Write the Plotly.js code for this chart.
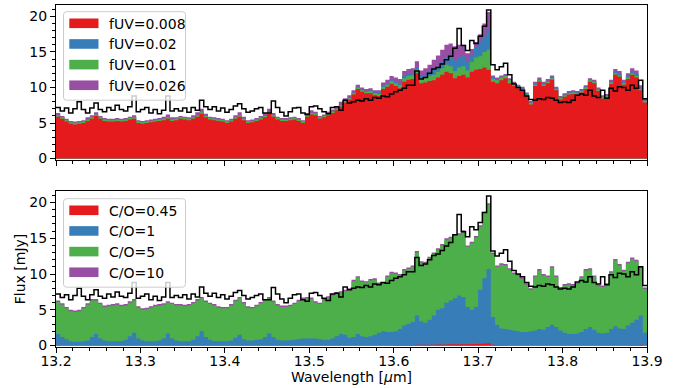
<!DOCTYPE html>
<html>
<head>
<meta charset="utf-8">
<script src="https://cdn.plot.ly/plotly-3.0.1.min.js"></script>
<style>html,body{margin:0;padding:0;background:#fff;}#chart{width:684px;height:388px;}</style>
</head>
<body>
<div id="chart"></div>
<script>
// Wavelength grid: bins of 0.005 um starting at 13.2 um
const wlStart = 13.2;
const wlStep = 0.005;

// Observed spectrum [mJy]
const observed = [
  7.2, 6.7, 7.1, 6.4, 7.0, 8.0, 6.9, 6.4, 7.1, 7.8,
  6.9, 6.6, 7.2, 6.8, 7.5, 6.9, 6.7, 7.3, 8.8, 6.6,
  6.9, 7.2, 6.4, 6.9, 6.3, 6.8, 8.8, 6.7, 7.0, 6.7,
  7.1, 6.5, 7.2, 6.8, 8.2, 7.3, 6.9, 7.3, 6.7, 7.1,
  6.5, 6.9, 7.4, 7.7, 7.0, 6.5, 6.7, 7.0, 7.2, 6.4,
  6.4, 8.1, 7.2, 6.5, 6.0, 6.6, 7.1, 7.2, 6.4, 6.2,
  7.3, 7.4, 7.0, 6.6, 6.3, 7.2, 7.3, 6.8, 8.2, 7.8,
  8.0, 8.2, 8.1, 8.4, 8.2, 8.6, 8.5, 8.8, 8.7, 9.1,
  9.4, 9.6, 9.9, 10.3, 10.3, 12.3, 11.2, 11.4, 12.0, 12.6,
  12.8, 13.3, 13.9, 14.4, 15.5, 18.3, 15.9, 15.2, 16.6, 16.2,
  17.2, 18.6, 20.9, 13.2, 12.5, 12.9, 13.4, 11.8, 10.5, 10.0,
  9.6, 8.8, 8.3, 8.2, 8.4, 8.3, 8.6, 8.5, 8.2, 7.9,
  8.0, 7.9, 8.2, 8.9, 9.1, 8.9, 9.6, 8.8, 8.6, 9.6,
  8.5, 9.9, 9.5, 10.1, 10.0, 9.6, 10.3, 9.9, 11.0, 8.4
];

// Top panel models (fUV)
const fuv0008 = [
  5.9, 5.6, 5.2, 4.9, 4.8, 4.9, 5.0, 5.3, 5.6, 6.0,
  5.6, 5.3, 5.2, 5.2, 5.3, 5.2, 5.3, 5.5, 5.6, 5.0,
  4.9, 5.0, 5.1, 5.2, 5.3, 5.4, 5.6, 5.3, 5.4, 5.6,
  5.5, 5.4, 5.6, 5.9, 6.3, 5.8, 5.5, 5.4, 5.3, 5.2,
  5.0, 5.2, 5.6, 5.9, 5.4, 5.0, 5.1, 5.3, 5.5, 5.8,
  6.3, 5.9, 5.5, 5.3, 5.3, 5.4, 5.5, 5.3, 5.0, 5.9,
  6.2, 6.1, 5.6, 5.8, 6.1, 6.4, 6.8, 7.3, 7.9, 8.3,
  9.0, 9.8, 9.4, 9.2, 9.2, 8.9, 8.8, 9.8, 10.1, 10.5,
  10.2, 9.9, 10.8, 11.1, 11.2, 12.0, 10.6, 10.7, 10.9, 11.0,
  11.4, 11.8, 12.2, 12.0, 11.3, 11.6, 11.8, 11.4, 12.2, 12.5,
  12.6, 12.8, 12.5, 10.8, 10.6, 11.0, 11.3, 10.6, 10.2, 9.9,
  9.6, 8.8, 7.6, 10.2, 10.8, 10.2, 10.6, 11.1, 9.6, 8.3,
  8.7, 9.0, 9.1, 9.0, 9.3, 9.8, 10.8, 10.6, 9.5, 8.4,
  8.6, 10.5, 11.8, 11.5, 10.4, 11.2, 11.8, 11.4, 9.6, 7.9
];
const fuv002 = [
  6.1, 5.8, 5.4, 5.1, 5.0, 5.1, 5.2, 5.5, 5.8, 6.2,
  5.8, 5.5, 5.4, 5.4, 5.5, 5.4, 5.5, 5.7, 5.8, 5.2,
  5.1, 5.2, 5.3, 5.4, 5.5, 5.6, 5.8, 5.5, 5.6, 5.8,
  5.7, 5.6, 5.8, 6.1, 6.5, 6.0, 5.7, 5.6, 5.5, 5.4,
  5.2, 5.4, 5.8, 6.1, 5.6, 5.2, 5.3, 5.5, 5.7, 6.0,
  6.5, 6.1, 5.7, 5.5, 5.5, 5.6, 5.7, 5.5, 5.2, 6.1,
  6.4, 6.3, 5.8, 6.0, 6.3, 6.6, 7.0, 7.5, 8.1, 8.5,
  9.3, 10.1, 9.7, 9.5, 9.6, 9.3, 9.3, 10.3, 10.6, 11.1,
  10.9, 10.6, 11.6, 11.9, 12.0, 12.8, 11.6, 11.8, 12.2, 12.6,
  12.9, 13.5, 14.3, 14.6, 13.8, 14.3, 14.4, 13.7, 14.6, 15.6,
  16.4, 17.2, 18.1, 11.5, 11.1, 11.5, 11.7, 11.1, 10.6, 10.2,
  9.9, 9.1, 7.9, 10.5, 11.1, 10.5, 10.9, 11.5, 9.9, 8.6,
  9.0, 9.3, 9.4, 9.3, 9.6, 10.1, 11.1, 10.9, 9.8, 8.7,
  8.9, 10.8, 12.2, 11.9, 10.8, 11.6, 12.3, 12.0, 10.0, 8.2
];
const fuv001 = [
  6.1, 5.8, 5.4, 5.1, 5.0, 5.1, 5.2, 5.5, 5.8, 6.2,
  5.8, 5.5, 5.4, 5.4, 5.5, 5.4, 5.5, 5.7, 5.8, 5.2,
  5.1, 5.2, 5.3, 5.4, 5.5, 5.6, 5.8, 5.5, 5.6, 5.8,
  5.7, 5.6, 5.8, 6.1, 6.5, 6.0, 5.7, 5.6, 5.5, 5.4,
  5.2, 5.4, 5.8, 6.1, 5.6, 5.2, 5.3, 5.5, 5.7, 6.0,
  6.5, 6.1, 5.7, 5.5, 5.5, 5.6, 5.7, 5.5, 5.2, 6.1,
  6.4, 6.3, 5.8, 6.0, 6.3, 6.6, 7.0, 7.5, 8.1, 8.5,
  9.2, 10.0, 9.6, 9.4, 9.5, 9.2, 9.1, 10.1, 10.4, 10.9,
  10.6, 10.3, 11.3, 11.6, 11.7, 12.5, 11.2, 11.4, 11.6, 11.8,
  12.2, 12.7, 13.2, 13.0, 12.3, 12.8, 13.0, 12.4, 13.6, 14.2,
  14.4, 15.0, 15.3, 11.2, 11.0, 11.4, 11.6, 11.0, 10.5, 10.1,
  9.8, 9.0, 7.8, 10.4, 11.0, 10.4, 10.8, 11.3, 9.8, 8.5,
  8.9, 9.2, 9.3, 9.2, 9.5, 10.0, 11.0, 10.8, 9.7, 8.6,
  8.8, 10.7, 12.0, 11.7, 10.6, 11.4, 12.0, 11.6, 9.8, 8.1
];
const fuv0026 = [
  6.4, 6.0, 5.6, 5.3, 5.2, 5.3, 5.4, 5.8, 6.1, 6.5,
  6.0, 5.7, 5.6, 5.6, 5.7, 5.6, 5.7, 5.9, 6.1, 5.4,
  5.3, 5.4, 5.5, 5.6, 5.7, 5.9, 6.2, 5.8, 5.8, 6.0,
  5.9, 5.8, 6.1, 6.5, 7.0, 6.3, 5.9, 5.8, 5.7, 5.6,
  5.4, 5.6, 6.1, 6.5, 5.9, 5.4, 5.5, 5.7, 6.0, 6.4,
  7.0, 6.4, 5.9, 5.7, 5.7, 5.8, 5.9, 5.7, 5.4, 6.4,
  6.8, 6.6, 6.0, 6.2, 6.6, 6.9, 7.4, 8.0, 8.5, 8.9,
  9.6, 10.4, 10.0, 9.8, 9.9, 9.6, 9.6, 10.7, 11.1, 11.6,
  11.4, 11.2, 12.3, 12.6, 12.7, 13.7, 12.4, 12.7, 13.2, 13.9,
  14.5, 15.3, 16.0, 16.2, 15.8, 16.0, 16.0, 14.8, 15.4, 16.4,
  17.5, 19.0, 20.6, 11.7, 11.4, 11.7, 11.9, 11.3, 10.8, 10.4,
  10.1, 9.3, 8.1, 10.8, 11.4, 10.8, 11.2, 11.7, 10.1, 8.8,
  9.2, 9.5, 9.6, 9.5, 9.8, 10.3, 11.3, 11.1, 10.0, 8.9,
  9.1, 11.1, 12.6, 12.3, 11.1, 12.0, 12.7, 12.4, 10.3, 8.4
];

// Bottom panel models (C/O)
const co045 = [
  0.04, 0.04, 0.04, 0.04, 0.04, 0.04, 0.04, 0.04, 0.04, 0.04,
  0.04, 0.04, 0.04, 0.04, 0.04, 0.04, 0.04, 0.04, 0.05, 0.04,
  0.04, 0.04, 0.04, 0.04, 0.04, 0.04, 0.05, 0.04, 0.04, 0.04,
  0.04, 0.04, 0.04, 0.04, 0.05, 0.04, 0.04, 0.04, 0.04, 0.04,
  0.04, 0.04, 0.04, 0.05, 0.04, 0.04, 0.04, 0.04, 0.04, 0.04,
  0.05, 0.04, 0.04, 0.04, 0.04, 0.04, 0.04, 0.04, 0.04, 0.04,
  0.04, 0.04, 0.04, 0.04, 0.04, 0.05, 0.05, 0.05, 0.05, 0.05,
  0.05, 0.05, 0.05, 0.05, 0.05, 0.05, 0.06, 0.06, 0.06, 0.06,
  0.07, 0.07, 0.08, 0.08, 0.09, 0.10, 0.10, 0.11, 0.12, 0.13,
  0.14, 0.15, 0.16, 0.17, 0.18, 0.19, 0.20, 0.20, 0.21, 0.23,
  0.26, 0.30, 0.33, 0.10, 0.08, 0.07, 0.07, 0.06, 0.06, 0.06,
  0.05, 0.05, 0.05, 0.05, 0.05, 0.05, 0.05, 0.06, 0.05, 0.05,
  0.05, 0.05, 0.05, 0.05, 0.05, 0.05, 0.06, 0.05, 0.05, 0.05,
  0.05, 0.05, 0.06, 0.06, 0.06, 0.06, 0.07, 0.08, 0.10, 0.06
];
const co1 = [
  1.6, 1.2, 0.9, 0.6, 0.55, 0.55, 0.6, 0.7, 1.2, 1.6,
  1.0, 0.7, 0.6, 0.6, 0.6, 0.65, 0.8, 1.3, 1.8, 1.0,
  0.7, 0.6, 0.6, 0.6, 0.7, 1.0, 1.7, 1.0, 0.7, 0.6,
  0.6, 0.6, 0.8, 1.3, 2.0, 1.2, 0.8, 0.65, 0.6, 0.6,
  0.6, 0.7, 1.1, 1.5, 0.9, 0.7, 0.7, 0.8, 0.9, 1.2,
  1.7, 1.2, 0.8, 0.7, 0.7, 0.75, 0.8, 0.9, 1.0, 1.0,
  1.0, 1.0, 0.9, 0.8, 0.8, 1.0, 1.3, 1.6, 1.5, 1.1,
  1.2, 1.6, 1.3, 1.2, 1.3, 1.5, 1.8, 2.0, 1.9, 1.9,
  2.0, 2.3, 2.8, 3.0, 3.3, 4.2, 3.4, 3.2, 3.6, 4.2,
  5.0, 5.2, 6.0, 6.3, 6.6, 7.0, 6.8, 5.4, 5.0, 5.4,
  7.8, 9.4, 10.7, 4.0, 2.9, 2.4, 2.3, 2.2, 2.1, 2.0,
  1.9, 1.9, 2.0, 2.1, 2.3, 2.2, 2.6, 2.9, 2.6, 2.1,
  1.8, 1.6, 1.6, 1.7, 1.9, 2.3, 2.6, 2.2, 1.8, 1.7,
  1.8, 2.3, 2.7, 2.4, 2.3, 2.8, 3.2, 3.6, 4.2, 1.8
];
const co5 = [
  6.1, 5.7, 5.2, 4.8, 4.7, 4.8, 5.2, 5.7, 6.3, 6.3,
  5.8, 5.4, 5.5, 5.6, 5.7, 5.5, 5.6, 6.0, 6.3, 5.3,
  5.0, 5.1, 5.3, 5.5, 5.6, 5.7, 6.0, 5.8, 5.6, 5.6,
  5.5, 5.6, 5.9, 6.3, 6.6, 6.1, 5.8, 5.6, 5.3, 5.2,
  5.2, 5.6, 6.2, 6.6, 5.9, 5.3, 5.2, 5.5, 5.9, 6.3,
  6.6, 6.1, 5.6, 5.4, 5.4, 5.5, 5.8, 6.2, 6.5, 6.6,
  6.5, 6.0, 5.8, 6.3, 6.7, 7.0, 7.3, 7.4, 7.6, 7.8,
  9.0, 9.5, 8.9, 8.8, 9.1, 9.2, 8.6, 8.6, 9.6, 10.1,
  10.0, 9.8, 10.5, 10.7, 11.0, 13.0, 11.6, 11.5, 12.2, 12.8,
  13.4, 14.0, 14.8, 15.0, 15.3, 15.5, 15.9, 13.8, 14.3, 15.1,
  16.6, 18.5, 19.7, 12.8, 11.0, 11.3, 11.2, 10.6, 10.0, 9.8,
  9.3, 8.5, 7.8, 9.6, 10.5, 9.8, 9.6, 10.9, 9.6, 8.0,
  8.4, 8.5, 8.4, 8.6, 9.5, 10.5, 10.6, 9.6, 8.3, 8.2,
  8.5, 10.2, 11.9, 11.2, 10.4, 11.5, 12.1, 11.8, 10.8, 7.9
];
const co10 = [
  6.3, 5.9, 5.4, 5.0, 4.9, 5.0, 5.4, 5.9, 6.5, 6.5,
  6.0, 5.6, 5.7, 5.8, 5.9, 5.7, 5.8, 6.2, 6.5, 5.5,
  5.2, 5.3, 5.5, 5.7, 5.8, 5.9, 6.2, 6.0, 5.8, 5.8,
  5.7, 5.8, 6.1, 6.5, 6.8, 6.3, 6.0, 5.8, 5.5, 5.4,
  5.4, 5.8, 6.4, 6.8, 6.1, 5.5, 5.4, 5.7, 6.1, 6.5,
  6.8, 6.3, 5.8, 5.6, 5.6, 5.7, 6.0, 6.4, 6.7, 6.8,
  6.7, 6.2, 6.0, 6.5, 6.9, 7.2, 7.5, 7.6, 7.8, 8.0,
  9.2, 9.7, 9.1, 9.0, 9.3, 9.4, 8.8, 8.8, 9.8, 10.3,
  10.2, 10.0, 10.7, 10.9, 11.2, 13.2, 11.8, 11.7, 12.4, 13.0,
  13.6, 14.2, 15.0, 15.2, 15.5, 15.7, 16.1, 14.0, 14.5, 15.3,
  16.8, 18.7, 19.9, 13.0, 11.2, 11.5, 11.4, 10.8, 10.2, 10.0,
  9.5, 8.7, 8.0, 9.8, 10.7, 10.0, 9.8, 11.1, 9.8, 8.2,
  8.6, 8.7, 8.6, 8.8, 9.7, 10.7, 10.8, 9.8, 8.5, 8.4,
  8.7, 10.4, 12.1, 11.4, 10.6, 11.7, 12.3, 12.0, 11.0, 8.1
];

const topLabels = ['fUV=0.008', 'fUV=0.02', 'fUV=0.01', 'fUV=0.026'];
const bottomLabels = ['C/O=0.45', 'C/O=1', 'C/O=5', 'C/O=10'];
const colors = ['#e41a1c', '#377eb8', '#4daf4a', '#984ea3'];

const n = observed.length;
const edges = [];
for (let i = 0; i <= n; i++) edges.push(+(wlStart + wlStep * i).toFixed(4));
const stepY = a => a.concat([a[a.length - 1]]);

function fillTrace(vals, name, color, xa, ya) {
  return {
    x: edges, y: stepY(vals), type: 'scatter', mode: 'lines',
    line: {shape: 'hv', width: 0, color: color},
    fill: 'tozeroy', fillcolor: color, name: name,
    showlegend: false, xaxis: xa, yaxis: ya, hoverinfo: 'skip'
  };
}
function obsTrace(xa, ya) {
  return {
    x: edges, y: stepY(observed), type: 'scatter', mode: 'lines',
    line: {shape: 'hv', width: 1.5, color: '#000000'},
    name: 'observed', showlegend: false, xaxis: xa, yaxis: ya, hoverinfo: 'skip'
  };
}

const topSeries = [fuv0008, fuv002, fuv001, fuv0026];
const botSeries = [co045, co1, co5, co10];
const data = [];
// draw order (back to front): purple, blue, green, red for top
[3, 1, 2, 0].forEach(k => data.push(fillTrace(topSeries[k], topLabels[k], colors[k], 'x', 'y')));
data.push(obsTrace('x', 'y'));
// draw order bottom: purple, green, blue, red
[3, 2, 1, 0].forEach(k => data.push(fillTrace(botSeries[k], bottomLabels[k], colors[k], 'x2', 'y2')));
data.push(obsTrace('x2', 'y2'));

// ---- figure geometry (pixels) ----
const W = 684, H = 388;
const M = {l: 56, r: 37, t: 5, b: 41};
const plotW = W - M.l - M.r, plotH = H - M.t - M.b;
const px = x => (x - M.l) / plotW;          // pixel x -> paper
const py = y => (H - M.b - y) / plotH;      // pixel y -> paper

// legend drawn with shapes + annotations (matplotlib-like)
const shapes = [], annotations = [];
const font = {family: 'DejaVu Sans, sans-serif', size: 14, color: '#000'};
function addLegend(boxTop, labels) {
  const L = px(63.5), R = px(185.5), T = py(boxTop), B = py(boxTop + 88.5);
  const rx = 3 / plotW, ry = 3 / plotH;
  shapes.push({
    type: 'path', xref: 'paper', yref: 'paper', layer: 'above',
    path: `M${L + rx},${T} H${R - rx} Q${R},${T} ${R},${T - ry} V${B + ry} Q${R},${B} ${R - rx},${B} H${L + rx} Q${L},${B} ${L},${B + ry} V${T - ry} Q${L},${T} ${L + rx},${T} Z`,
    fillcolor: 'rgba(255,255,255,0.8)', line: {color: '#cccccc', width: 1}
  });
  labels.forEach((lab, k) => {
    const cy = boxTop + 11.6 + 20.65 * k;
    shapes.push({
      type: 'rect', xref: 'paper', yref: 'paper', layer: 'above',
      x0: px(69.3), x1: px(98.5), y0: py(cy - 4.8), y1: py(cy + 4.8),
      fillcolor: colors[k], line: {width: 0}
    });
    annotations.push({
      xref: 'paper', yref: 'paper', x: px(108), y: py(cy + 0.5),
      xanchor: 'left', yanchor: 'middle', text: lab, showarrow: false,
      font: font, borderpad: 0
    });
  });
}
addLegend(11.7, topLabels);
addLegend(198.7, bottomLabels);

const axisCommon = {
  showline: true, mirror: true, linecolor: '#000', linewidth: 1,
  ticks: 'outside', ticklen: 5, tickwidth: 1, tickcolor: '#000',
  showgrid: false, zeroline: false, tickfont: font
};
const xCommon = Object.assign({}, axisCommon, {
  range: [13.2, 13.9], dtick: 0.1, tick0: 13.2, ticklabelstandoff: -4,
  minor: {dtick: 0.02, tick0: 13.2, ticks: 'outside', ticklen: 3, tickwidth: 1, tickcolor: '#000', showgrid: false}
});
const yCommon = Object.assign({}, axisCommon, {
  range: [-0.2, 21.6], dtick: 5, tick0: 0,
  minor: {dtick: 1, tick0: 0, ticks: 'outside', ticklen: 3, tickwidth: 1, tickcolor: '#000', showgrid: false}
});

const layout = {
  width: W, height: H,
  margin: M,
  paper_bgcolor: '#fff', plot_bgcolor: '#fff',
  font: font,
  showlegend: false,
  xaxis: Object.assign({}, xCommon, {anchor: 'y', showticklabels: false}),
  yaxis: Object.assign({}, yCommon, {domain: [py(160), 1], anchor: 'x'}),
  xaxis2: Object.assign({}, xCommon, {anchor: 'y2', title: {text: 'Wavelength [<i>μ</i>m]', font: font, standoff: 4}}),
  yaxis2: Object.assign({}, yCommon, {domain: [0, py(191)], anchor: 'x2', title: {text: 'Flux [mJy]', font: font, standoff: 0}}),
  shapes: shapes,
  annotations: annotations
};

Plotly.newPlot('chart', data, layout, {displayModeBar: false, staticPlot: true});
</script>
</body>
</html>
